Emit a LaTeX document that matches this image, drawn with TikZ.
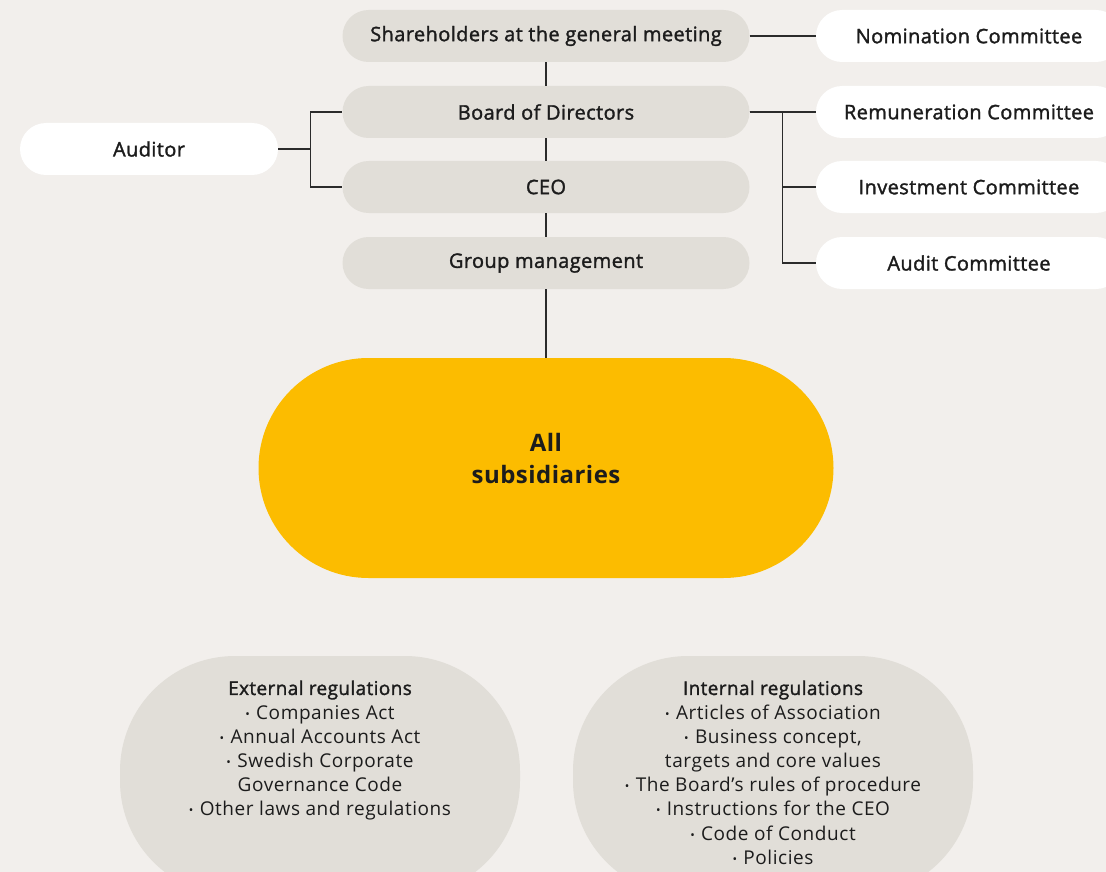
\documentclass[tikz,border=0pt]{standalone}
\usepackage{fontspec}
\setmainfont{Open Sans}[LetterSpace=3]
\newfontfamily\medfont{Open Sans}[FakeBold=1.6, LetterSpace=2]
\newfontfamily\subsfont{Open Sans}[LetterSpace=2]
\usetikzlibrary{positioning}

\definecolor{bgc}{HTML}{F2EFEC}
\definecolor{pillgrey}{HTML}{E1DED8}
\definecolor{subyellow}{HTML}{FCBC00}
\definecolor{inkc}{HTML}{1C1C1C}
\definecolor{linec}{HTML}{2B2B2B}

\newcommand{\regdot}{{\fontsize{12}{12}\selectfont\raisebox{1pt}{•}}\,\,}

\begin{document}
\begin{tikzpicture}[
  x=1pt, y=-1pt,
  font=\fontsize{19}{24.2}\selectfont, text=inkc,
  pill/.style={fill=pillgrey, rounded corners=26pt, minimum width=407pt, minimum height=52pt, inner sep=0pt, font=\fontsize{20}{24}\medfont},
  side/.style={fill=white, rounded corners=26pt, minimum height=52pt, inner sep=0pt, font=\fontsize{20}{24}\medfont},
  regbox/.style={fill=pillgrey, rounded corners=115pt, minimum width=400pt, minimum height=240pt},
  link/.style={draw=linec, line width=1.1pt}
]
\useasboundingbox (0,0) rectangle (1106,872);
\clip (0,0) rectangle (1106,872);
\fill[bgc] (0,0) rectangle (1106,872);

% main chain
\node[pill] (share) at (546,36) {Shareholders at the general meeting};
\node[pill] (board) at (546,112) {Board of Directors};
\node[pill] (ceo) at (546,187) {CEO};
\node[pill] (groupm) at (546,263) {Group management};
\node[fill=subyellow, rounded corners=110pt, minimum width=575pt, minimum height=220pt,
  align=center, text depth=19pt, font=\fontsize{24}{32}\subsfont\bfseries] (subs) at (546,468) {All\\subsidiaries};

% side boxes
\node[side, minimum width=258pt] (auditor) at (149,149) {Auditor};
\node[side, minimum width=306pt] (nomin) at (969,36) {Nomination Committee};
\node[side, minimum width=306pt] (remun) at (969,112) {Remuneration Committee};
\node[side, minimum width=306pt] (invest) at (969,187) {Investment Committee};
\node[side, minimum width=306pt] (audit) at (969,263) {Audit Committee};

\draw[link] (share) -- (board);
\draw[link] (board) -- (ceo);
\draw[link] (ceo) -- (groupm);
\draw[link] (groupm) -- (subs);
\draw[link] (share) -- (nomin);
\draw[link] (auditor.east) -- ++(32,0) |- (board.west);
\draw[link] (auditor.east) -- ++(32,0) |- (ceo.west);
\draw[link] (board.east) -- (remun.west);
\draw[link] (board.east) -- ++(33,0) |- (invest.west);
\draw[link] (board.east) -- ++(33,0) |- (audit.west);

% regulations
\node[regbox] (ext) at (320,776) {};
\node[align=center, anchor=north] (extText) at (320,677)
  {{\medfont External regulations}\\
   \regdot Companies Act\\
   \regdot Annual Accounts Act\\
   \regdot Swedish Corporate\\
   Governance Code\\
   \regdot Other laws and regulations};
\node[regbox] (int) at (773,776) {};
\node[align=center, anchor=north] (intText) at (773,677)
  {{\medfont Internal regulations}\\
   \regdot Articles of Association\\
   \regdot Business concept,\\
   targets and core values\\
   \regdot The Board’s rules of procedure\\
   \regdot Instructions for the CEO\\
   \regdot Code of Conduct\\
   \regdot Policies};
\end{tikzpicture}
\end{document}
